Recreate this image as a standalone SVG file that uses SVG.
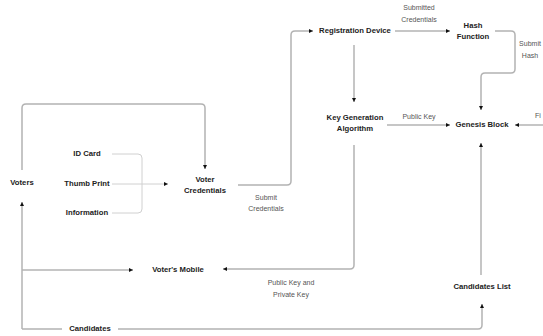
<svg xmlns="http://www.w3.org/2000/svg" width="543" height="336" viewBox="0 0 543 336">
<style>
.e{fill:none;stroke:#b3b3b3;stroke-width:1.5;stroke-linejoin:round}
.t{fill:none;stroke:#d0d0d0;stroke-width:1}
.n{font-family:"Liberation Sans",Arial,sans-serif;font-size:7.7px;font-weight:bold;fill:#222;text-anchor:middle;dominant-baseline:middle}
.l{font-family:"Liberation Sans",Arial,sans-serif;font-size:7px;fill:#555;text-anchor:middle;dominant-baseline:middle}
</style>
<defs>
<marker id="a" viewBox="0 0 6 6" refX="6" refY="3" markerWidth="4" markerHeight="4" markerUnits="userSpaceOnUse" orient="auto"><path d="M0,0 L6,3 L0,6z" fill="#111"/></marker>
</defs>
<rect width="543" height="336" fill="#fff"/>
<g id="connectors">
<path class="e" d="M22,170 V108 Q22,104 26,104 H201 Q205,104 205,108 V169" marker-end="url(#a)"/>
<path class="e" d="M22,329 V202" marker-end="url(#a)"/>
<path class="e" d="M22,329 H478 Q482,329 482,325 V304" marker-end="url(#a)"/>
<path class="e" d="M22,270 H133" marker-end="url(#a)"/>
<path class="t" d="M112,154 H138 Q142,154 142,158 V209 Q142,213 138,213 H112"/>
<path class="t" d="M112,184 H168" marker-end="url(#a)"/>
<path class="e" d="M238,185 H287 Q291,185 291,181 V35 Q291,31 295,31 H313" marker-end="url(#a)"/>
<path class="e" d="M395,31 H450" marker-end="url(#a)"/>
<path class="e" d="M495,31 H511 Q515,31 515,35 V69 Q515,73 511,73 H485 Q481,73 481,77 V110" marker-end="url(#a)"/>
<path class="e" d="M354,45 V102" marker-end="url(#a)"/>
<path class="e" d="M387,125 H450" marker-end="url(#a)"/>
<path class="e" d="M543,125 H515" marker-end="url(#a)"/>
<path class="e" d="M481,275 V143" marker-end="url(#a)"/>
<path class="e" d="M354,145 V265 Q354,269 350,269 H223" marker-end="url(#a)"/>
<rect x="62" y="323" width="56" height="12" fill="#fff"/>
<text class="l" x="266" y="198">Submit</text>
<text class="l" x="266" y="209">Credentials</text>
<text class="l" x="419" y="8">Submitted</text>
<text class="l" x="419" y="20">Credentials</text>
<text class="l" x="530" y="44">Submit</text>
<text class="l" x="530" y="56">Hash</text>
<text class="l" x="419" y="117">Public Key</text>
<text class="l" x="538" y="116">Fi</text>
<text class="l" x="291" y="283">Public Key and</text>
<text class="l" x="291" y="295">Private Key</text>
<text class="n" x="90" y="329">Candidates</text>
</g>
<g id="voters"><text class="n" x="22" y="183">Voters</text></g>
<g id="idcard"><text class="n" x="87" y="154">ID Card</text></g>
<g id="thumbprint"><text class="n" x="87" y="184">Thumb Print</text></g>
<g id="information"><text class="n" x="87" y="213">Information</text></g>
<g id="votercredentials"><text class="n" x="205" y="180">Voter</text><text class="n" x="205" y="191">Credentials</text></g>
<g id="registrationdevice"><text class="n" x="355" y="31">Registration Device</text></g>
<g id="hashfunction"><text class="n" x="473" y="26">Hash</text><text class="n" x="473" y="37">Function</text></g>
<g id="keygeneration"><text class="n" x="355" y="118">Key Generation</text><text class="n" x="355" y="129">Algorithm</text></g>
<g id="genesisblock"><text class="n" x="482" y="125">Genesis Block</text></g>
<g id="votersmobile"><text class="n" x="178" y="270">Voter's Mobile</text></g>
<g id="candidateslist"><text class="n" x="482" y="287">Candidates List</text></g>
</svg>
